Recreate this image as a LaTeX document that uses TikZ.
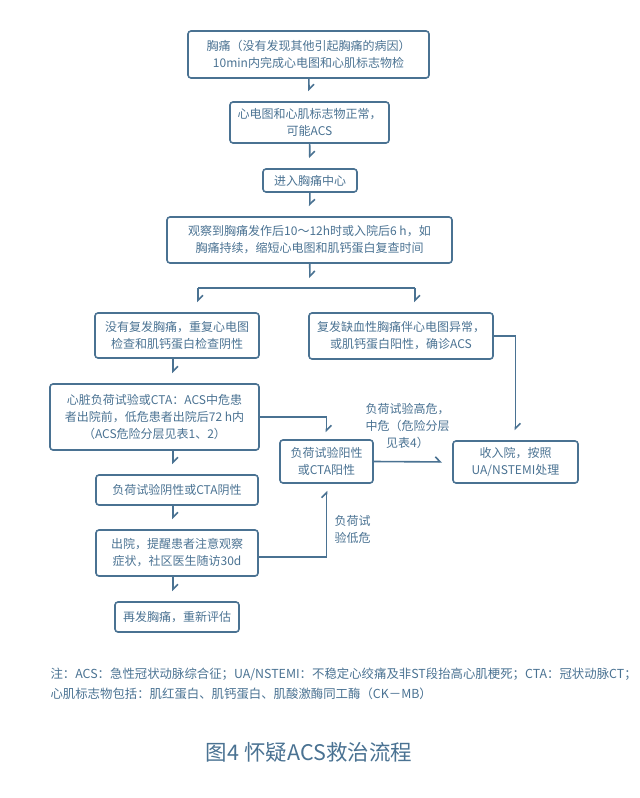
\documentclass[tikz,border=0pt]{standalone}
\usepackage{fontspec}
\setmainfont{Noto Sans CJK SC}
\usetikzlibrary{arrows.meta}
\definecolor{flow}{RGB}{74,114,146}

\begin{document}
\begin{tikzpicture}[x=1pt,y=-1pt,font=\fontsize{12}{17}\selectfont,text=flow]
  \tikzstyle{box} = [draw=flow,line width=1.6pt,rounded corners=3pt,align=center,inner sep=0pt]
  \tikzstyle{link} = [draw=flow,line width=1.6pt]
  \tikzstyle{arr} = [link,-{Straight Barb[left,length=5pt,width=10pt]},shorten >=10pt]
  \useasboundingbox (0,0) rectangle (640,798);

  % main column
  \node[box,minimum width=241pt,minimum height=47pt] (start) at (308.5,54.5)
    {胸痛（没有发现其他引起胸痛的病因）\\10min内完成心电图和心肌标志物检};
  \node[box,minimum width=159pt,minimum height=41pt] (normal) at (309.5,122.5)
    {心电图和心肌标志物正常，\\可能ACS};
  \node[box,minimum width=94pt,minimum height=23pt] (center) at (310,180.5) {进入胸痛中心};
  \node[box,minimum width=285pt,minimum height=46pt] (observe) at (309.5,240)
    {观察到胸痛发作后10～12h时或入院后6 h，如\\胸痛持续，缩短心电图和肌钙蛋白复查时间};

  % two branches
  \node[box,minimum width=164pt,minimum height=45pt] (noRecur) at (177,335.5)
    {没有复发胸痛，重复心电图\\检查和肌钙蛋白检查阴性};
  \node[box,minimum width=184pt,minimum height=46pt] (recur) at (401,336)
    {复发缺血性胸痛伴心电图异常，\\或肌钙蛋白阳性，确诊ACS};
  \node[box,minimum width=209pt,minimum height=66pt] (stress) at (154.5,417)
    {心脏负荷试验或CTA：ACS中危患\\者出院前，低危患者出院后72 h内\\（ACS危险分层见表1、2）};
  \node[box,minimum width=93pt,minimum height=43pt] (positive) at (326.5,461.5)
    {负荷试验阳性\\或CTA阳性};
  \node[box,minimum width=125pt,minimum height=42pt] (admit) at (515.5,462)
    {收入院，按照\\UA/NSTEMI处理};
  \node[box,minimum width=162pt,minimum height=30pt] (negative) at (177,490)
    {负荷试验阴性或CTA阴性};
  \node[box,minimum width=162pt,minimum height=46pt] (discharge) at (177,553)
    {出院，提醒患者注意观察\\症状，社区医生随访30d};
  \node[box,minimum width=124pt,minimum height=30pt] (again) at (177,617)
    {再发胸痛，重新评估};

  % edge labels
  \node[align=center] (highRisk) at (407.5,425.5) {负荷试验高危，\\中危（危险分层\\见表4）};
  \node[align=center] (lowRisk) at (352.5,529) {负荷试\\验低危};

  \coordinate (fork) at (310,288);
  \coordinate (forkL) at (198,288);
  \coordinate (forkR) at (415,288);
  \coordinate (colL) at (173,0);

  \draw[arr] (start) -- (normal);
  \draw[arr] (normal) -- (center);
  \draw[arr] (center) -- (observe);
  \draw[arr] (observe) -- (fork);
  \draw[link] (forkL) -- (forkR);
  \draw[arr] (forkL) -- (forkL |- noRecur.north);
  \draw[arr] (forkR) -- (forkR |- recur.north);
  \draw[arr] (colL |- noRecur.south) -- (colL |- stress.north);
  \draw[arr] (colL |- stress.south) -- (colL |- negative.north);
  \draw[arr] (colL |- negative.south) -- (colL |- discharge.north);
  \draw[arr] (colL |- discharge.south) -- (colL |- again.north);
  \draw[arr,shorten >=7pt] (stress.east) -| (positive.north);
  \draw[arr] (positive.east) -- (admit.west);
  \draw[arr] (recur.east) -| (admit.north);
  \draw[arr,shorten >=7pt] ([yshift=-4pt]discharge.east) -| (positive.south);

  % footnote and caption
  \node[anchor=north west,align=left,font=\fontsize{12.4}{20}\selectfont] (note) at (47,664)
    {注：ACS：急性冠状动脉综合征；UA/NSTEMI：不稳定心绞痛及非ST段抬高心肌梗死；CTA：冠状动脉CT；\\
     心肌标志物包括：肌红蛋白、肌钙蛋白、肌酸激酶同工酶（CK－MB）};
  \node[font=\fontsize{21.5}{26}\selectfont] (title) at (309,752) {图4 怀疑ACS救治流程};
\end{tikzpicture}
\end{document}
